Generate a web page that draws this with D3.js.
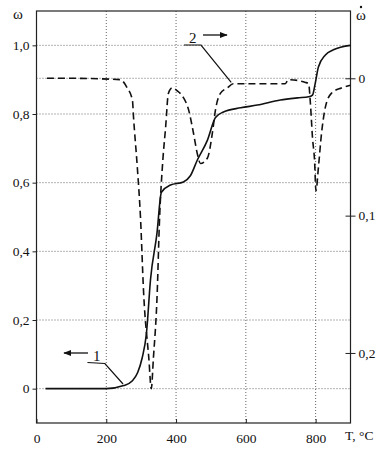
<!DOCTYPE html>
<html>
<head>
<meta charset="utf-8">
<script src="https://cdn.jsdelivr.net/npm/d3@7"></script>
<style>
	body { margin: 0; background: #fff; }
	svg text { font-family: "Liberation Serif", "DejaVu Serif", serif; fill: #111; }
</style>
</head>
<body>
<div id="chartDiv"></div>
<script>
// omega (left axis) vs temperature, curve 1
var tempSolid = [26, 200, 250, 275, 290, 303, 315, 327, 345, 358, 384, 421, 441, 461, 490, 513, 536, 585, 633, 699, 748, 780, 791, 799, 808, 828, 851, 900];
var omegaSolid = [0, 0, 0.009, 0.023, 0.047, 0.09, 0.16, 0.32, 0.45, 0.572, 0.593, 0.602, 0.62, 0.666, 0.724, 0.79, 0.806, 0.818, 0.826, 0.841, 0.847, 0.85, 0.855, 0.89, 0.937, 0.972, 0.987, 1.0];

// omega dot (right axis, reversed) vs temperature, curve 2
var tempDashed = [30, 100, 240, 260, 275, 278, 289, 298, 307, 322, 329, 335, 346, 352, 362, 370, 378, 389, 403, 421, 436, 450, 461, 470, 490, 504, 513, 527, 547, 564, 640, 713, 722, 771, 780, 785, 791, 797, 801, 808, 817, 828, 845, 874, 900];
var omegaDotDashed = [0, 0, 0.001, 0.007, 0.016, 0.028, 0.065, 0.101, 0.156, 0.204, 0.226, 0.204, 0.156, 0.107, 0.06, 0.036, 0.011, 0.007, 0.009, 0.014, 0.023, 0.04, 0.055, 0.062, 0.058, 0.04, 0.023, 0.011, 0.007, 0.004, 0.004, 0.004, 0.001, 0.003, 0.004, 0.018, 0.043, 0.06, 0.082, 0.065, 0.04, 0.021, 0.011, 0.007, 0.005];

var xTicks = [0, 200, 400, 600, 800];
var yLeftTicks = [0, 0.2, 0.4, 0.6, 0.8, 1.0];
var yRightTicks = [0, 0.1, 0.2];

var width = 388;
var height = 450;
var plot = { left: 36.5, right: 350.5, top: 11, bottom: 423 };
var chart;

init();

function init() {
	chart = d3.select("#chartDiv").append("svg")
		.attr("width", width)
		.attr("height", height);

	chart.xScale = d3.scaleLinear().domain([0, 900]).range([plot.left, plot.right]);
	chart.yLeft = d3.scaleLinear().domain([-0.1, 1.1]).range([plot.bottom, plot.top]);
	chart.yRight = d3.scaleLinear().domain([-0.049, 0.251]).range([plot.top, plot.bottom]);

	drawGrid();
	drawAxes();
	drawCurves();
	drawLabels();
}

function drawGrid() {
	var grid = chart.append("g")
		.attr("stroke", "#666")
		.attr("stroke-width", 1)
		.attr("stroke-dasharray", "1,2");

	grid.selectAll(".vgrid")
		.data(xTicks.filter(function(d) { return d > 0; }))
		.enter().append("line")
			.attr("x1", function(d) { return chart.xScale(d); })
			.attr("x2", function(d) { return chart.xScale(d); })
			.attr("y1", plot.top)
			.attr("y2", plot.bottom);

	var hLines = yLeftTicks.map(function(d) { return chart.yLeft(d); });
	hLines.push(chart.yRight(0));

	grid.selectAll(".hgrid")
		.data(hLines)
		.enter().append("line")
			.attr("x1", plot.left)
			.attr("x2", plot.right)
			.attr("y1", function(d) { return d; })
			.attr("y2", function(d) { return d; });
}

function drawAxes() {
	// frame
	chart.append("rect")
		.attr("x", plot.left)
		.attr("y", plot.top)
		.attr("width", plot.right - plot.left)
		.attr("height", plot.bottom - plot.top)
		.attr("fill", "none")
		.attr("stroke", "#222")
		.attr("stroke-width", 1.2);

	var xAxis = d3.axisBottom(chart.xScale)
		.tickValues(xTicks)
		.tickSize(-4)
		.tickPadding(10)
		.tickFormat(d3.format("d"));

	var xg = chart.append("g")
		.attr("transform", "translate(0," + plot.bottom + ")")
		.call(xAxis);

	var leftAxis = d3.axisLeft(chart.yLeft)
		.tickValues(yLeftTicks)
		.tickSize(4)
		.tickPadding(3)
		.tickFormat(function(d) { return d === 0 ? "0" : d.toFixed(1).replace(".", ","); });

	var lg = chart.append("g")
		.attr("transform", "translate(" + plot.left + ",0)")
		.call(leftAxis);

	var rightAxis = d3.axisRight(chart.yRight)
		.tickValues(yRightTicks)
		.tickSize(5)
		.tickPadding(3)
		.tickFormat(function(d) { return d === 0 ? "0" : d.toFixed(1).replace(".", ","); });

	var rg = chart.append("g")
		.attr("transform", "translate(" + plot.right + ",0)")
		.call(rightAxis);

	rg.selectAll(".tick line").attr("x1", -5);

	[xg, lg, rg].forEach(function(g) {
		g.select(".domain").remove();
		g.selectAll(".tick line").attr("stroke", "#222");
		g.selectAll("text").style("font-size", "13.5px").attr("fill", "#111");
	});
}

function drawCurves() {
	var solidData = tempSolid.map(function(t, i) { return [t, omegaSolid[i]]; });
	var dashedData = tempDashed.map(function(t, i) { return [t, omegaDotDashed[i]]; });

	var solidLine = d3.line()
		.x(function(d) { return chart.xScale(d[0]); })
		.y(function(d) { return chart.yLeft(d[1]); })
		.curve(d3.curveMonotoneX);

	var dashedLine = d3.line()
		.x(function(d) { return chart.xScale(d[0]); })
		.y(function(d) { return chart.yRight(d[1]); })
		.curve(d3.curveMonotoneX);

	chart.append("path")
		.datum(dashedData)
		.attr("d", dashedLine)
		.attr("fill", "none")
		.attr("stroke", "#111")
		.attr("stroke-width", 1.6)
		.attr("stroke-dasharray", "7,4");

	chart.append("path")
		.datum(solidData)
		.attr("d", solidLine)
		.attr("fill", "none")
		.attr("stroke", "#111")
		.attr("stroke-width", 1.6);
}

function drawLabels() {
	var defs = chart.append("defs");
	defs.append("marker")
		.attr("id", "arrow")
		.attr("viewBox", "0 0 10 10")
		.attr("refX", 9)
		.attr("refY", 5)
		.attr("markerWidth", 8)
		.attr("markerHeight", 6)
		.attr("orient", "auto")
		.append("path")
			.attr("d", "M0,1 L10,5 L0,9 Z")
			.attr("fill", "#111");

	// axis titles
	chart.append("text").attr("x", 13).attr("y", 19).style("font-size", "15px").text("ω");
	chart.append("text").attr("x", 356).attr("y", 20).style("font-size", "15px").text("ω");
	chart.append("circle").attr("cx", 361).attr("cy", 7).attr("r", 1.2).attr("fill", "#111");
	chart.append("text").attr("x", 345).attr("y", 440).style("font-size", "13.5px").text("T, °C");

	// curve 1 label, leader and arrow
	chart.append("text").attr("x", 93).attr("y", 361).style("font-size", "15px").text("1");
	chart.append("polyline")
		.attr("points", [[chart.xScale(146), 362.5], [chart.xScale(196), 363.5], [chart.xScale(248), 384]].join(" "))
		.attr("fill", "none").attr("stroke", "#111").attr("stroke-width", 1.2);
	chart.append("line")
		.attr("x1", 88).attr("y1", 353).attr("x2", 64).attr("y2", 353)
		.attr("stroke", "#111").attr("stroke-width", 1.3)
		.attr("marker-end", "url(#arrow)");

	// curve 2 label, leader and arrow
	chart.append("text").attr("x", 189).attr("y", 43).style("font-size", "15px").text("2");
	chart.append("polyline")
		.attr("points", [[184, 45], [201, 45], [chart.xScale(558), chart.yRight(0.003)]].join(" "))
		.attr("fill", "none").attr("stroke", "#111").attr("stroke-width", 1.2);
	chart.append("line")
		.attr("x1", 203).attr("y1", 35).attr("x2", 227).attr("y2", 35)
		.attr("stroke", "#111").attr("stroke-width", 1.3)
		.attr("marker-end", "url(#arrow)");
}
</script>
</body>
</html>
